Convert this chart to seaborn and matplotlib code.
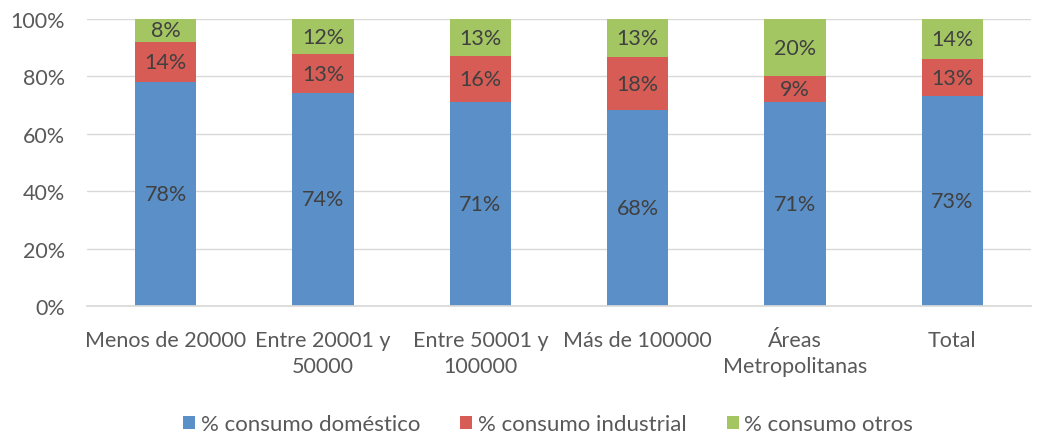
import matplotlib
matplotlib.use("Agg")
import matplotlib.pyplot as plt
import seaborn as sns
import numpy as np
import pandas as pd
from matplotlib.patches import Patch

categories = ["Menos de 20000", "Entre 20001 y\n50000", "Entre 50001 y\n100000",
              "Más de 100000", "Áreas\nMetropolitanas", "Total"]
domestico = [78, 74.3, 71, 68.3, 71, 73]
industrial = [14, 13.4, 16, 18.4, 9, 13]
otros = [8, 12.3, 13, 13.3, 20, 14]
series_names = ["% consumo doméstico", "% consumo industrial", "% consumo otros"]
colors = ["#5B8FC8", "#D65C55", "#A3C663"]

sns.set_theme(style="white")
plt.rcParams['font.family'] = ['Lato', 'DejaVu Sans']

fig = plt.figure(figsize=(10.54, 4.35), dpi=100)
ax = fig.add_axes([87/1054, 128/435, (1031-87)/1054, (415-128)/435])

dom = np.array(domestico)
ind = np.array(industrial)
otr = np.array(otros)
layers = [dom + ind + otr, dom + ind, dom]
layer_colors = [colors[2], colors[1], colors[0]]
for vals, c in zip(layers, layer_colors):
    df = pd.DataFrame({"cat": categories, "val": vals})
    sns.barplot(data=df, x="cat", y="val", color=c, width=0.39,
                saturation=1, ax=ax, linewidth=0, edgecolor="none")

FS = 15.5
# labels
for i in range(len(categories)):
    bottoms = [0, dom[i], dom[i] + ind[i]]
    for v, b in zip([dom[i], ind[i], otr[i]], bottoms):
        ax.text(i, b + v / 2, f"{v:.0f}%", ha="center", va="center",
                fontsize=FS, color="#404040")

ax.set_ylim(0, 100)
ax.set_xlim(-0.5, len(categories) - 0.5)
ax.set_yticks(np.arange(0, 101, 20))
ax.set_yticklabels([f"{t}%" for t in range(0, 101, 20)])
ax.set_xlabel("")
ax.set_ylabel("")
ax.yaxis.grid(True, color="#D9D9D9", linewidth=1)
ax.set_axisbelow(True)
for s in ["top", "right", "left"]:
    ax.spines[s].set_visible(False)
ax.spines["bottom"].set_color("#D9D9D9")
ax.tick_params(axis="both", length=0, labelsize=FS, colors="#595959")
ax.tick_params(axis="x", pad=17)
ax.tick_params(axis="y", pad=16)
for lbl in ax.get_xticklabels():
    lbl.set_linespacing(1.4)

handles = [Patch(facecolor=c, edgecolor="none") for c in colors]
fig.legend(handles, series_names, loc="center", bbox_to_anchor=(0.52, 0.022),
           ncol=3, frameon=False, fontsize=16, handlelength=0.55, handleheight=0.55,
           handletextpad=0.25, columnspacing=1.8, labelcolor="#595959")

fig.savefig("out.png", dpi=100)
